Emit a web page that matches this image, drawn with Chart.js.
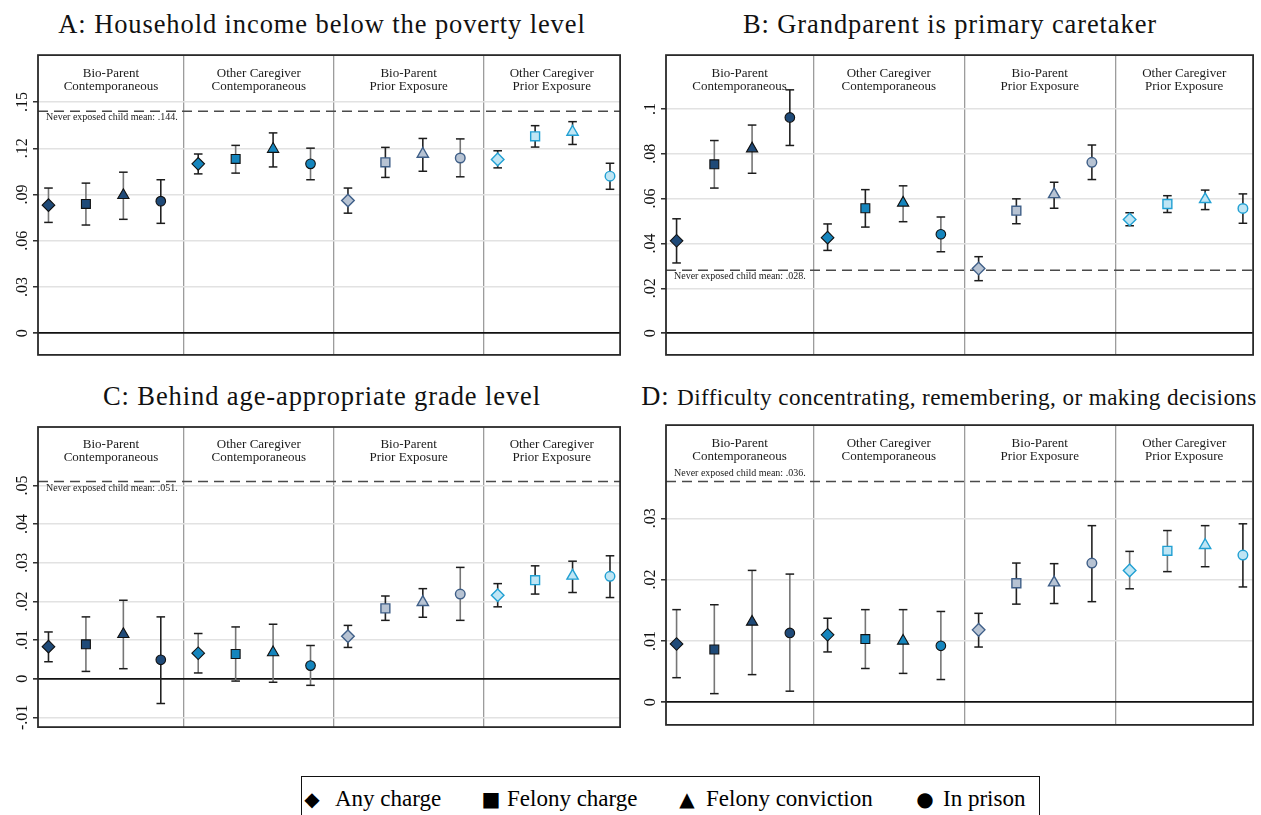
<!DOCTYPE html>
<html><head><meta charset="utf-8">
<script src="https://cdn.jsdelivr.net/npm/chart.js@4.4.1/dist/chart.umd.min.js"></script>
<style>
html,body{margin:0;padding:0;background:#fff;}
body{width:1261px;height:815px;position:relative;overflow:hidden;font-family:"Liberation Serif",serif;color:#111;}
canvas{position:absolute;}
.title{position:absolute;white-space:nowrap;transform:translateX(-50%);font-family:"Liberation Serif",serif;font-size:26.5px;letter-spacing:0.9px;line-height:1;color:#111;}
.title small{font-size:23.2px;letter-spacing:0.4px;}
#legend{position:absolute;left:301px;top:776px;width:737px;height:60px;border:1.5px solid #111;}
.sym{position:absolute;width:24px;text-align:center;font-family:"DejaVu Sans",sans-serif;font-size:20px;line-height:20px;color:#000;}
.lt{position:absolute;font-family:"Liberation Serif",serif;font-size:23px;line-height:23px;white-space:nowrap;color:#000;}
</style>
</head><body>
<div class="title" style="left:322px;top:11px;">A: Household income below the poverty level</div>
<div class="title" style="left:950px;top:11px;">B: Grandparent is primary caretaker</div>
<div class="title" style="left:322px;top:383px;">C: Behind age-appropriate grade level</div>
<div class="title" style="left:949px;top:383px;">D: <small>Difficulty concentrating, remembering, or making decisions</small></div>

<canvas id="cA" width="628" height="320" style="left:0px;top:45px;"></canvas>
<canvas id="cB" width="631" height="320" style="left:630px;top:45px;"></canvas>
<canvas id="cC" width="628" height="320" style="left:0px;top:415px;"></canvas>
<canvas id="cD" width="631" height="320" style="left:630px;top:415px;"></canvas>

<div id="legend"></div>

<script>
// ---------- data ----------
const groupLabels = [["Bio-Parent","Contemporaneous"],["Other Caregiver","Contemporaneous"],["Bio-Parent","Prior Exposure"],["Other Caregiver","Prior Exposure"]];
const seriesNames = ["Any charge","Felony charge","Felony conviction","In prison"];
const legendSymbols = ["\u25C6","\u25A0","\u25B2","\u25CF"];

// Panel A: Household income below the poverty level
const aEst = [0.0831,0.0839,0.0895,0.0857, 0.1099,0.1131,0.1195,0.1099, 0.0861,0.1109,0.1163,0.1137, 0.1128,0.1278,0.1306,0.1019];
const aLo  = [0.0719,0.0702,0.0739,0.0713, 0.1034,0.1039,0.1079,0.0996, 0.0779,0.1011,0.1051,0.1015, 0.1073,0.1208,0.1225,0.0934];
const aHi  = [0.0942,0.0974,0.1045,0.0996, 0.1163,0.1219,0.1300,0.1201, 0.0942,0.1206,0.1264,0.1261, 0.1184,0.1347,0.1373,0.1103];
const aMean = 0.144;
const aTicks = [0,0.03,0.06,0.09,0.12,0.15];
const aTickLabels = ["0",".03",".06",".09",".12",".15"];

// Panel B: Grandparent is primary caretaker
const bEst = [0.0412,0.0753,0.0823,0.0962, 0.0426,0.0557,0.0581,0.0441, 0.0288,0.0546,0.0619,0.0762, 0.0507,0.0576,0.0597,0.0556];
const bLo  = [0.0313,0.0647,0.0713,0.0837, 0.0369,0.0473,0.0497,0.0363, 0.0234,0.0488,0.0557,0.0685, 0.0479,0.0538,0.0551,0.0490];
const bHi  = [0.0510,0.0859,0.0928,0.1085, 0.0487,0.0640,0.0657,0.0518, 0.0341,0.0599,0.0673,0.0839, 0.0537,0.0613,0.0638,0.0621];
const bMean = 0.028;
const bTicks = [0,0.02,0.04,0.06,0.08,0.1];
const bTickLabels = ["0",".02",".04",".06",".08",".1"];

// Panel C: Behind age-appropriate grade level
const cEst = [0.0083,0.0089,0.0115,0.0049, 0.0066,0.0064,0.0068,0.0034, 0.0110,0.0182,0.0198,0.0219, 0.0216,0.0255,0.0266,0.0265];
const cLo  = [0.0044,0.0019,0.0026,-0.0064, 0.0015,-0.0006,-0.0009,-0.0017, 0.0081,0.0151,0.0159,0.0151, 0.0186,0.0219,0.0223,0.0210];
const cHi  = [0.0121,0.0160,0.0203,0.0160, 0.0117,0.0134,0.0141,0.0086, 0.0138,0.0214,0.0233,0.0288, 0.0246,0.0292,0.0304,0.0318];
const cMean = 0.051;
const cTicks = [-0.01,0,0.01,0.02,0.03,0.04,0.05];
const cTickLabels = ["-.01","0",".01",".02",".03",".04",".05"];

// Panel D: Difficulty concentrating, remembering, or making decisions
const dEst = [0.0095,0.0086,0.0131,0.0113, 0.0110,0.0103,0.0100,0.0092, 0.0118,0.0194,0.0195,0.0227, 0.0215,0.0247,0.0256,0.0240];
const dLo  = [0.0040,0.0014,0.0045,0.0018, 0.0082,0.0055,0.0047,0.0037, 0.0090,0.0160,0.0161,0.0164, 0.0185,0.0213,0.0221,0.0188];
const dHi  = [0.0151,0.0159,0.0215,0.0209, 0.0137,0.0151,0.0151,0.0148, 0.0145,0.0227,0.0226,0.0288, 0.0246,0.0280,0.0288,0.0291];
const dMean = 0.036;
const dTicks = [0,0.01,0.02,0.03];
const dTickLabels = ["0",".01",".02",".03"];

// ---------- styles ----------
const XMIN = 0.72, XMAX = 16.27;
const DIVIDERS = [4.62, 8.62, 12.62];
const pointStyles = ['rectRot','rect','triangle','circle'];
const radii = [6.3, 6.3, 6.5, 4.8];
const groupFill = ['#1f4a78','#1585bd','#b7c3d3','#bfe5f4'];
const groupEdge = ['#111111','#111111','#3f5f88','#21a0d3'];
const groupEdgeW = [1.1, 1.1, 1.4, 1.4];
const aShade = [1,1,1,0, 0,1,0,1, 0,0,0,1, 0,0,0,0];
const bShade = [0,1,1,0, 0,0,1,1, 0,0,0,0, 0,0,0,0];
const cShade = [0,1,1,0, 1,1,1,1, 0,0,0,1, 0,0,0,0];
const dShade = [1,1,1,1, 0,1,1,1, 0,0,0,0, 1,1,1,0];

function fmtMean(v){ return String(v).replace(/^0\./,'.'); }

const annotPlugin = {
  id: 'annot',
  afterDraw(chart){
    const o = chart.options.plugins.annot;
    const {ctx, chartArea: ca} = chart;
    const xs = chart.scales.x, ys = chart.scales.y;
    ctx.save();
    const bounds = [XMIN, ...DIVIDERS, XMAX];
    ctx.font = '13px "Liberation Serif"';
    ctx.fillStyle = '#1a1a1a';
    ctx.textAlign = 'center';
    ctx.textBaseline = 'middle';
    groupLabels.forEach((lines, g) => {
      const cx = (xs.getPixelForValue(bounds[g]) + xs.getPixelForValue(bounds[g+1])) / 2;
      ctx.fillText(lines[0], cx, ca.top + 18);
      ctx.fillText(lines[1], cx, ca.top + 31);
    });
    ctx.font = '10px "Liberation Serif"';
    ctx.textAlign = 'left';
    const my = ys.getPixelForValue(o.mean) + (o.above ? -8 : 6.5);
    ctx.fillText('Never exposed child mean: ' + fmtMean(o.mean) + '.', ca.left + 8, my);
    ctx.strokeStyle = '#2a2a2a';
    ctx.lineWidth = 1.8;
    ctx.strokeRect(ca.left, ca.top, ca.right - ca.left, ca.bottom - ca.top);
    ctx.restore();
  }
};

function makePanel(id, est, lo, hi, mean, ticks, tickLabels, ymin, ymax, shade, above, pad){
  const xpos = est.map((_, i) => i + 1);
  const markerSets = seriesNames.map((name, s) => ({
    label: name,
    data: groupLabels.map((_, g) => ({x: xpos[g*4+s], y: est[g*4+s]})),
    pointStyle: pointStyles[s],
    pointRadius: radii[s],
    pointBackgroundColor: groupFill,
    pointBorderColor: groupEdge,
    pointBorderWidth: groupEdgeW,
    showLine: false
  }));
  const barData = [];
  est.forEach((_, i) => { barData.push({x: xpos[i], y: lo[i]}, {x: xpos[i], y: hi[i]}, {x: xpos[i], y: null}); });
  const barSet = {
    label: 'ci', data: barData, showLine: true, spanGaps: false,
    borderWidth: 1.6, borderColor: '#222',
    segment: {borderColor: c => shade[Math.floor(c.p0DataIndex/3)] ? '#767676' : '#222'},
    pointStyle: 'line', pointRadius: 4.3, pointBorderWidth: 1.5, pointBorderColor: '#1c1c1c', pointBackgroundColor: '#1c1c1c'
  };
  const meanSet = {
    label: 'mean', data: [{x: XMIN, y: mean}, {x: XMAX, y: mean}], showLine: true,
    borderColor: '#4a4a4a', borderDash: [10,6], borderWidth: 1.5, pointRadius: 0
  };
  return new Chart(document.getElementById(id), {
    type: 'scatter',
    data: {datasets: [...markerSets, barSet, meanSet]},
    plugins: [annotPlugin],
    options: {
      responsive: false, animation: false, events: [], devicePixelRatio: 1,
      layout: {padding: {top: pad.t, right: pad.r, bottom: pad.b, left: 0}},
      plugins: {legend: {display: false}, tooltip: {enabled: false}, title: {display: false}, annot: {mean: mean, above: above}},
      scales: {
        x: {
          type: 'linear', min: XMIN, max: XMAX,
          afterBuildTicks: s => { s.ticks = DIVIDERS.map(v => ({value: v})); },
          ticks: {display: false},
          grid: {color: '#9c9c9c', lineWidth: 1.3, drawTicks: false},
          border: {display: false},
          afterFit: s => { s.height = 0; }
        },
        y: {
          type: 'linear', min: ymin, max: ymax,
          afterBuildTicks: s => { s.ticks = ticks.map(v => ({value: v})); },
          ticks: {callback: (v, i) => tickLabels[i], minRotation: 90, maxRotation: 90, crossAlign: 'center', padding: pad.tp,
                  font: {family: 'Liberation Serif', size: 16}, color: '#111'},
          grid: {color: c => (c.tick && c.tick.value === 0) ? '#111' : '#e2e2e2',
                 lineWidth: c => (c.tick && c.tick.value === 0) ? 1.7 : 1.5,
                 tickColor: '#333', tickLength: 5},
          border: {display: false},
          afterFit: s => { s.width = pad.yw; }
        }
      }
    }
  });
}

makePanel('cA', aEst, aLo, aHi, aMean, aTicks, aTickLabels, -0.0141, 0.1805, aShade, false, {t:10, r:3, b:7, yw:38, tp:0.5});
makePanel('cB', bEst, bLo, bHi, bMean, bTicks, bTickLabels, -0.0097, 0.124, bShade, false, {t:10, r:7, b:7, yw:36, tp:0.5});
makePanel('cC', cEst, cLo, cHi, cMean, cTicks, cTickLabels, -0.0125, 0.0651, cShade, false, {t:12, r:3, b:4, yw:38, tp:-2.2});
makePanel('cD', dEst, dLo, dHi, dMean, dTicks, dTickLabels, -0.0037, 0.0452, dShade, true, {t:10, r:7, b:6, yw:36, tp:0.5});

// legend
const legend = document.getElementById('legend');
const symCenters = [10, 189, 385, 623];
const textLefts = [33, 205, 404, 641];
seriesNames.forEach((name, i) => {
  const s = document.createElement('span');
  s.className = 'sym'; s.textContent = legendSymbols[i];
  s.style.left = (symCenters[i] - 12) + 'px'; s.style.top = '12px';
  legend.appendChild(s);
  const t = document.createElement('span');
  t.className = 'lt'; t.textContent = name;
  t.style.left = textLefts[i] + 'px'; t.style.top = '10px';
  legend.appendChild(t);
});
</script>
</body></html>
